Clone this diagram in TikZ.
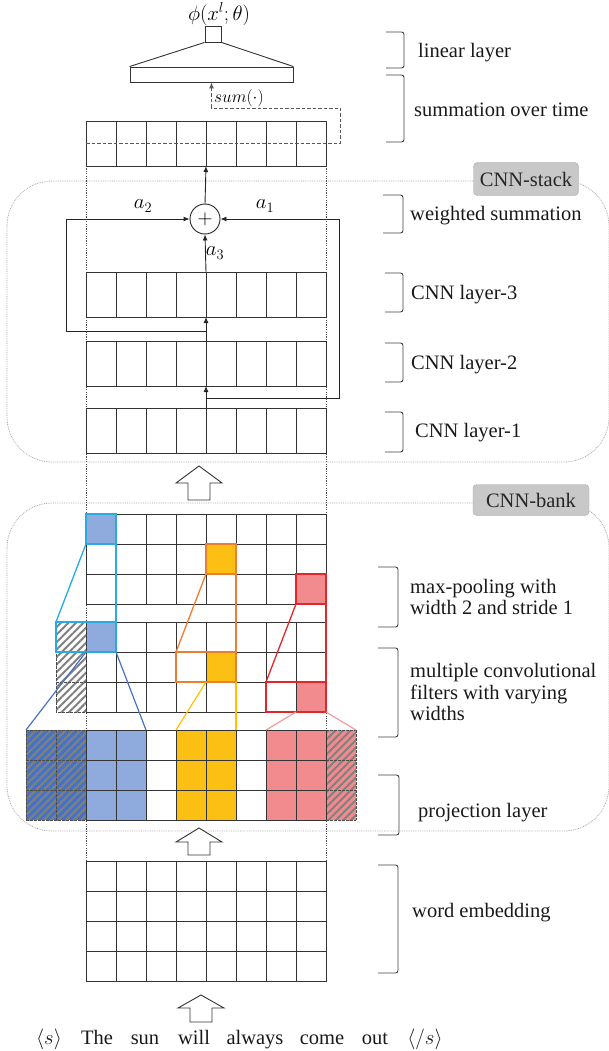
\documentclass[tikz,border=0pt]{standalone}
\usepackage{fontspec}
\setmainfont{Liberation Serif}
\newfontfamily\serifx{Liberation Serif}
\usetikzlibrary{arrows.meta,patterns.meta,calc}
\definecolor{lblue}{HTML}{8FAADC}
\definecolor{cyanb}{HTML}{29ABE2}
\definecolor{dblue}{HTML}{4472C4}
\definecolor{goldf}{HTML}{FCC014}
\definecolor{goldl}{HTML}{FFC000}
\definecolor{orangeb}{HTML}{ED7D31}
\definecolor{pinkf}{HTML}{F28B8E}
\definecolor{redb}{HTML}{E2262A}
\definecolor{pinkl}{HTML}{F49A9A}
\definecolor{tagfill}{HTML}{C8C8C8}
\newcommand\blockarrow[4]{% x tip, y tip, head h, total h
  \draw[bigarrow] (#1,#2) -- ++(23,#3) -- ++(-12,0) -- ++(0,{#4-#3}) -- ++(-22,0) -- ++(0,{#3-#4}) -- ++(-12,0) -- cycle;}
\begin{document}
\begin{tikzpicture}[x=1pt,y=-1pt,
  font=\serifx\fontsize{20.5}{21.5}\selectfont,
  gl/.style={draw=black!80, line width=0.9pt},
  gld/.style={draw=black!70, line width=0.9pt, dash pattern=on 2.5pt off 1.5pt},
  cont/.style={draw=black!35, line width=0.8pt, dash pattern=on 0.8pt off 1pt, rounded corners=45pt},
  tag/.style={draw=black!35, fill=tagfill, rounded corners=4pt, inner sep=0pt, text=black!85},
  brk/.style={draw=black!75, line width=0.9pt, rounded corners=2.5pt},
  lab/.style={anchor=west, inner sep=0pt, align=left, text=black!90},
  conn/.style={draw=black!85, line width=0.9pt, -{Latex[length=6pt,width=5pt]}},
  hatch/.style={pattern={Lines[angle=45,distance=5.3pt,line width=2pt]}, pattern color=black!50},
  guide/.style={draw=black!70, line width=0.7pt, dash pattern=on 1.2pt off 1.2pt},
  bigarrow/.style={draw=black!80, line width=0.9pt, fill=white},
  sumdash/.style={draw=black!65, line width=0.9pt, dash pattern=on 3.5pt off 2pt},
  word/.style={inner sep=0pt, anchor=base, text=black!90}
]
\useasboundingbox (0,0) rectangle (608,1051);

% containers
\draw[cont] (7,181) rectangle (609,462);
\draw[cont] (7,503) rectangle (609,831);
\node[tag, minimum width=105pt, minimum height=33pt] (stacktag) at (526,179) {CNN-stack};
\node[tag, minimum width=116pt, minimum height=31pt] (banktag) at (531,500) {CNN-bank};

% guide lines
\draw[guide] (86,166) -- (86,861);
\draw[guide] (326,166) -- (326,861);

% ---------- top: linear layer + sum ----------
\node[draw=black!80, line width=0.9pt, fill=white, minimum width=163pt, minimum height=15pt, inner sep=0pt] (lin) at (211.5,74.5) {};
\node[draw=black!80, line width=0.9pt, minimum size=16pt, inner sep=0pt] (sq) at (213,34) {};
\draw[gl] (lin.north west) -- (sq.south west);
\draw[gl] (lin.north east) -- (sq.south east);
\node[inner sep=0pt] (phi) at (219,14) {$\phi(x^l;\theta)$};

\draw[gl, fill=white] (86,121) rectangle (326,166);
\foreach \x in {116,146,...,296} \draw[gl] (\x,121) -- (\x,166);
\coordinate (sg) at (206,166);
\coordinate (sd) at (86,143.5);
\draw[sumdash, -{Latex[length=6pt,width=5pt]}] (sd) -- (340,143.5) -- (340,108) -| (lin.south);
\node[anchor=west, inner sep=0pt, font=\fontsize{18}{20}\selectfont] (sumlab) at (214,98) {$sum(\cdot)$};

% ---------- CNN stack ----------
\foreach \ya/\yb in {272/317, 341/386, 408/453}{
  \draw[gl, fill=white] (86,\ya) rectangle (326,\yb);
  \foreach \x in {116,146,...,296} \draw[gl] (\x,\ya) -- (\x,\yb);
}
\node[circle, draw=black!85, line width=0.9pt, fill=white, minimum size=30pt, inner sep=0pt] (plus) at (205,219) {$+$};
\coordinate (l1t) at (206,408);
\coordinate (l2b) at (206,386);
\coordinate (l2t) at (206,341);
\coordinate (l3b) at (206,317);
\coordinate (l3t) at (206,272);
\coordinate (b1) at (206,398);
\coordinate (b2) at (206,331);
\draw[conn] (l1t) -- (l2b);
\draw[conn] (l2t) -- (l3b);
\draw[conn] (l3t) -- (plus.south);
\draw[conn] (plus.north) -- (sg);
\draw[conn] (b1) -- (339,398) -- (339,219) -- (plus.east);
\draw[conn] (b2) -- (66,331) -- (66,219) -- (plus.west);
\node[inner sep=0pt] (a1) at (265,206) {$a_1$};
\node[inner sep=0pt] (a2) at (143,206) {$a_2$};
\node[inner sep=0pt] (a3) at (215,253) {$a_3$};

% block arrows
\blockarrow{199}{466}{17}{34}
\blockarrow{199}{828}{14}{27}
\blockarrow{201}{995}{13}{27}

% ---------- CNN bank ----------
\fill[lblue] (86,514) rectangle (116,544);
\fill[goldf] (206,544) rectangle (236,574);
\fill[pinkf] (296,574) rectangle (326,604);
\fill[lblue] (86,622) rectangle (116,652);
\fill[goldf] (206,652) rectangle (236,682);
\fill[pinkf] (296,682) rectangle (326,712);
\fill[white] (56,622) rectangle (86,712);
\fill[hatch] (56,622) rectangle (86,712);
\fill[dblue] (26,730) rectangle (86,820);
\fill[hatch] (26,730) rectangle (86,820);
\fill[lblue] (86,730) rectangle (146,820);
\fill[white] (146,730) rectangle (176,820);
\fill[goldf] (176,730) rectangle (236,820);
\fill[white] (236,730) rectangle (266,820);
\fill[pinkf] (266,730) rectangle (356,820);
\fill[hatch] (326,730) rectangle (356,820);

\foreach \ya in {514,622}{
  \draw[gl] (86,\ya) rectangle (326,\ya+90);
  \foreach \x in {116,146,...,296} \draw[gl] (\x,\ya) -- (\x,\ya+90);
  \foreach \y in {30,60} \draw[gl] (86,\ya+\y) -- (326,\ya+\y);
}
\draw[gld] (56,622) rectangle (86,712);
\draw[gld] (56,652) -- (86,652);
\draw[gld] (56,682) -- (86,682);
\foreach \x in {86,116,...,326} \draw[gl] (\x,730) -- (\x,820);
\foreach \y in {730,760,790,820} \draw[gl] (86,\y) -- (326,\y);
\foreach \y in {730,760,790,820} {\draw[gld] (26,\y) -- (86,\y); \draw[gld] (326,\y) -- (356,\y);}
\draw[gld] (26,730) -- (26,820);
\draw[gld] (56,730) -- (56,820);
\draw[gld] (356,730) -- (356,820);

\draw[cyanb, line width=1.3pt] (86,514) rectangle (116,544);
\draw[cyanb, line width=1.3pt] (56,622) rectangle (116,652);
\draw[cyanb, line width=1.3pt] (86,544) -- (56,622);
\draw[cyanb, line width=1.3pt] (116,544) -- (116,622);
\draw[orangeb, line width=1.3pt] (206,544) rectangle (236,574);
\draw[orangeb, line width=1.3pt] (176,652) rectangle (236,682);
\draw[orangeb, line width=1.3pt] (206,574) -- (176,652);
\draw[orangeb, line width=1.3pt] (236,574) -- (236,652);
\draw[redb, line width=1.3pt] (296,574) rectangle (326,604);
\draw[redb, line width=1.3pt] (266,682) rectangle (326,712);
\draw[redb, line width=1.3pt] (296,604) -- (266,682);
\draw[redb, line width=1.3pt] (326,604) -- (326,682);
\draw[dblue, line width=1.2pt] (86,652) -- (26,730);
\draw[dblue, line width=1.2pt] (116,652) -- (146,730);
\draw[goldl, line width=1.2pt] (206,682) -- (176,730);
\draw[goldl, line width=1.2pt] (236,682) -- (236,730);
\draw[pinkl, line width=1.2pt] (296,712) -- (266,730);
\draw[pinkl, line width=1.2pt] (326,712) -- (356,730);

% ---------- word embedding ----------
\draw[gl, fill=white] (86,861) rectangle (326,981);
\foreach \x in {116,146,...,296} \draw[gl] (\x,861) -- (\x,981);
\foreach \y in {891,921,951} \draw[gl] (86,\y) -- (326,\y);

\node[word] (w0) at (49,1044) {$\langle s\rangle$};
\node[word] (w1) at (97,1044) {The};
\node[word] (w2) at (145,1044) {sun};
\node[word] (w3) at (194,1044) {will};
\node[word] (w4) at (255,1044) {always};
\node[word] (w5) at (322,1044) {come};
\node[word] (w6) at (375,1044) {out};
\node[word] (w7) at (425,1044) {$\langle /s\rangle$};

% ---------- brackets and labels ----------
\draw[brk] (386,32) -- (404,32) -- (404,68) -- (386,68);
\node[lab] (t1) at (418,53) {linear layer};
\draw[brk] (386,75) -- (404,75) -- (404,142) -- (386,142);
\node[lab] (t2) at (414,110) {summation over time};
\draw[brk] (383,195) -- (403,195) -- (403,233) -- (383,233);
\node[lab] (t3) at (410,216) {weighted summation};
\draw[brk] (385,273) -- (403,273) -- (403,312) -- (385,312);
\node[lab] (t4) at (411,295) {CNN layer-3};
\draw[brk] (385,343) -- (403,343) -- (403,382) -- (385,382);
\node[lab] (t5) at (411,365) {CNN layer-2};
\draw[brk] (385,412) -- (403,412) -- (403,452) -- (385,452);
\node[lab] (t6) at (415,433) {CNN layer-1};
\draw[brk] (378,567) -- (398,567) -- (398,627) -- (378,627);
\node[lab] (t7) at (410,597) {max-pooling with\\width 2 and stride 1};
\draw[brk] (378,648) -- (398,648) -- (398,737) -- (378,737);
\node[lab] (t8) at (410,692) {multiple convolutional\\filters with varying\\widths};
\draw[brk] (378,775) -- (399,775) -- (399,835) -- (378,835);
\node[lab] (t9) at (418,813) {projection layer};
\draw[brk] (378,865) -- (398,865) -- (398,973) -- (378,973);
\node[lab] (t10) at (412,913) {word embedding};
\end{tikzpicture}
\end{document}
